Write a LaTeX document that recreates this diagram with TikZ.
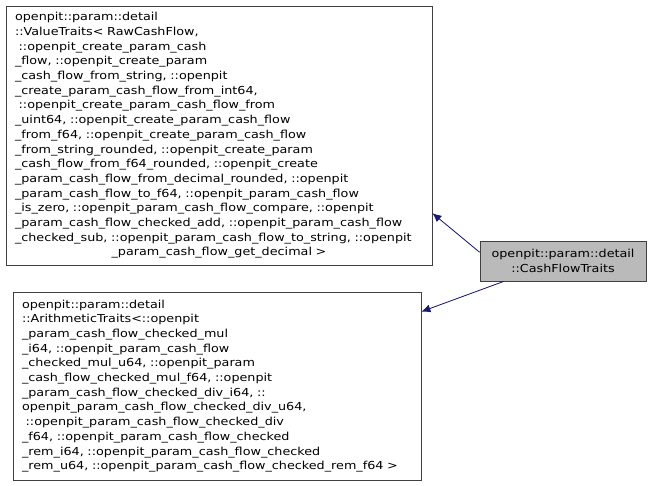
\documentclass[tikz,border=0pt]{standalone}
\usepackage{fontspec}
\setmainfont[FakeStretch=1.16]{DejaVu Sans}
\usetikzlibrary{arrows.meta}
\definecolor{edgeblue}{RGB}{25,25,112}
\begin{document}
\begin{tikzpicture}[x=1pt,y=-1pt]
\tikzset{every node/.style={font=\fontsize{11}{14.7}\selectfont, inner sep=0pt},
  cls/.style={draw=black!75, line width=0.8pt, align=left},
  inh/.style={draw=edgeblue, fill=edgeblue, line width=0.8pt, -{Latex[length=9pt,width=8pt]}}}
\useasboundingbox (0,0) rectangle (652,485);

% Nodes for classes
\node[cls, minimum width=426pt, minimum height=259pt, text width=408pt] at (219,135.5) (value) {openpit::param::detail\\
::ValueTraits< RawCashFlow,\\
\ ::openpit\_create\_param\_cash\\
\_flow, ::openpit\_create\_param\\
\_cash\_flow\_from\_string, ::openpit\\
\_create\_param\_cash\_flow\_from\_int64,\\
\ ::openpit\_create\_param\_cash\_flow\_from\\
\_uint64, ::openpit\_create\_param\_cash\_flow\\
\_from\_f64, ::openpit\_create\_param\_cash\_flow\\
\_from\_string\_rounded, ::openpit\_create\_param\\
\_cash\_flow\_from\_f64\_rounded, ::openpit\_create\\
\_param\_cash\_flow\_from\_decimal\_rounded, ::openpit\\
\_param\_cash\_flow\_to\_f64, ::openpit\_param\_cash\_flow\\
\_is\_zero, ::openpit\_param\_cash\_flow\_compare, ::openpit\\
\_param\_cash\_flow\_checked\_add, ::openpit\_param\_cash\_flow\\
\_checked\_sub, ::openpit\_param\_cash\_flow\_to\_string, ::openpit\\
\makebox[\linewidth][c]{\_param\_cash\_flow\_get\_decimal >}};

\node[cls, minimum width=408pt, minimum height=188pt, text width=390pt] at (217,386) (arith) {openpit::param::detail\\
::ArithmeticTraits<::openpit\\
\_param\_cash\_flow\_checked\_mul\\
\_i64, ::openpit\_param\_cash\_flow\\
\_checked\_mul\_u64, ::openpit\_param\\
\_cash\_flow\_checked\_mul\_f64, ::openpit\\
\_param\_cash\_flow\_checked\_div\_i64, ::\\
openpit\_param\_cash\_flow\_checked\_div\_u64,\\
\ ::openpit\_param\_cash\_flow\_checked\_div\\
\_f64, ::openpit\_param\_cash\_flow\_checked\\
\_rem\_i64, ::openpit\_param\_cash\_flow\_checked\\
\_rem\_u64, ::openpit\_param\_cash\_flow\_checked\_rem\_f64 >};

\node[cls, fill=black!27, align=center, minimum width=166pt, minimum height=40pt] at (563,261) (cash) {openpit::param::detail\\::CashFlowTraits};

% Inheritance lines
\draw[inh] (cash.174.5) -- (value.340);
\draw[inh] (cash.199) -- (arith.20.4);
\end{tikzpicture}
\end{document}
